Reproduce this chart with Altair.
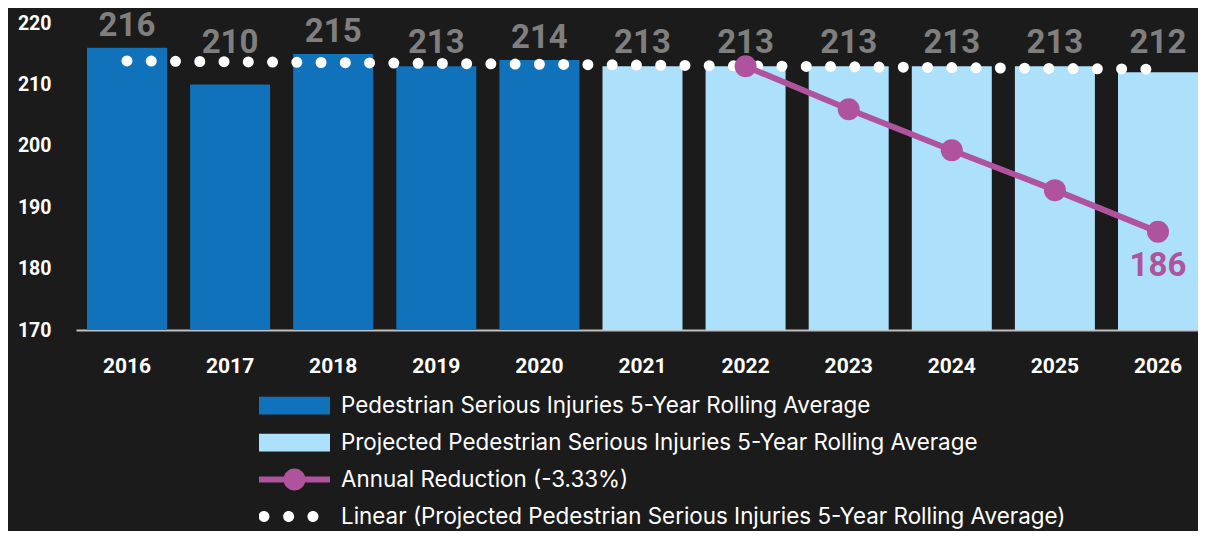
import altair as alt
import pandas as pd

# ---- data ----
years = [2016, 2017, 2018, 2019, 2020, 2021, 2022, 2023, 2024, 2025, 2026]
values = [216, 210, 215, 213, 214, 213, 213, 213, 213, 213, 212]

S_ACTUAL = "Pedestrian Serious Injuries 5-Year Rolling Average"
S_PROJ = "Projected Pedestrian Serious Injuries 5-Year Rolling Average"
S_RED = "Annual Reduction (-3.33%)"
S_LIN = "Linear (Projected Pedestrian Serious Injuries 5-Year Rolling Average)"

bar_series = [S_ACTUAL] * 5 + [S_PROJ] * 6

reduction_years = [2022, 2023, 2024, 2025, 2026]
reduction_values = [213, 206, 199.3, 192.8, 186]

legend_names = [S_ACTUAL, S_PROJ, S_RED, S_LIN]
legend_colors = ["#1072BA", "#ADE0FA", "#B0539E", "#FFFFFF"]

y_ticks = [170, 180, 190, 200, 210, 220]

# legend symbol shapes (unit square -1..1)
def circ(cx, r):
    return (f"M{cx + r},0A{r},{r},0,1,1,{cx - r},0"
            f"A{r},{r},0,1,1,{cx + r},0Z")

legend_paths = [
    "M-1,-0.25H1V0.25H-1Z",
    "M-1,-0.25H1V0.25H-1Z",
    "M-1,-0.085H1V0.085H-1Z" + circ(0, 0.31),
    circ(-0.86, 0.155) + circ(-0.165, 0.155) + circ(0.52, 0.155),
]

BG = "#1B1B1B"
C_ACTUAL, C_PROJ, PURPLE, WHITE = legend_colors
FONT = "Roboto"
LEGEND_FONT = "Inter"

bars_df = pd.DataFrame({"year": years, "value": values, "series": bar_series})
red_df = pd.DataFrame({"year": reduction_years, "value": reduction_values})
legend_df = pd.DataFrame({"series": legend_names})

x_enc = alt.X(
    "year:O",
    scale=alt.Scale(paddingInner=0.224, paddingOuter=0.0533, align=1),
    axis=alt.Axis(title=None, labelAngle=0, ticks=False, grid=False,
                  domainColor="#BFBFBF", domainWidth=2,
                  labelFont=FONT, labelFontSize=21, labelFontWeight="bold",
                  labelColor=WHITE, labelPadding=25),
)
y_scale = alt.Scale(domain=[170, 222], nice=False, zero=False)
y_axis = alt.Axis(title=None, values=y_ticks, ticks=False, grid=False, domain=False,
                  labelFont=FONT, labelFontSize=19.5, labelFontWeight="bold",
                  labelColor=WHITE, labelPadding=25)

base_bars = alt.Chart(bars_df).encode(
    x=x_enc,
    y=alt.Y("value:Q", scale=y_scale, axis=y_axis),
    y2=alt.datum(170),
)
bars_actual = base_bars.transform_filter(
    alt.datum.series == S_ACTUAL).mark_bar(color=C_ACTUAL)
bars_proj = base_bars.transform_filter(
    alt.datum.series == S_PROJ).mark_bar(color=C_PROJ)

trend = alt.Chart(bars_df).transform_regression(
    "year", "value", method="linear"
).encode(
    x=alt.X("year:O"),
    y=alt.Y("value:Q"),
).mark_line(color=WHITE, strokeWidth=11, strokeDash=[0, 24.26], strokeCap="round")

red_line = alt.Chart(red_df).mark_line(color=PURPLE, strokeWidth=6).encode(
    x="year:O", y="value:Q")
red_pts = alt.Chart(red_df).mark_circle(color=PURPLE, size=484, opacity=1).encode(
    x="year:O", y="value:Q")

labels = alt.Chart(bars_df).transform_joinaggregate(
    avg="mean(value)"
).transform_calculate(
    anchor="max(datum.value, datum.avg)"
).mark_text(font=FONT, fontSize=33, fontWeight="bold", color="#7F7F7F",
            baseline="alphabetic", dy=-12).encode(
    x="year:O", y="anchor:Q", text="value:Q")

red_label = alt.Chart(red_df).transform_joinaggregate(
    last="max(year)"
).transform_filter("datum.year == datum.last").mark_text(
    font=FONT, fontSize=33, fontWeight="bold", color=PURPLE,
    baseline="alphabetic", dy=44).encode(
    x="year:O", y="value:Q", text="value:Q")

leg = alt.Legend(title=None, orient="none", legendX=183, legendY=376,
                 symbolSize=5041, symbolStrokeWidth=0, labelFont=LEGEND_FONT,
                 labelFontSize=22.4, labelColor=WHITE, labelOffset=11,
                 labelLimit=1000, clipHeight=37, rowPadding=0, direction="vertical")
legend_layer = alt.Chart(legend_df).mark_point(filled=True, opacity=1).encode(
    color=alt.Color("series:N", scale=alt.Scale(domain=legend_names, range=legend_colors),
                    legend=leg),
    shape=alt.Shape("series:N", scale=alt.Scale(domain=legend_names, range=legend_paths),
                    legend=leg),
).transform_filter("false")

chart = alt.layer(bars_actual, bars_proj, trend, red_line, red_pts, labels, red_label,
                  legend_layer).properties(
    width=1122, height=319,
    padding={"left": 68, "top": 3, "right": 0, "bottom": 201},
    autosize=alt.AutoSizeParams(type="none"),
    background=BG,
).configure_view(strokeWidth=0)

chart.save("out.html", embed_options={"renderer": "svg", "actions": False})
